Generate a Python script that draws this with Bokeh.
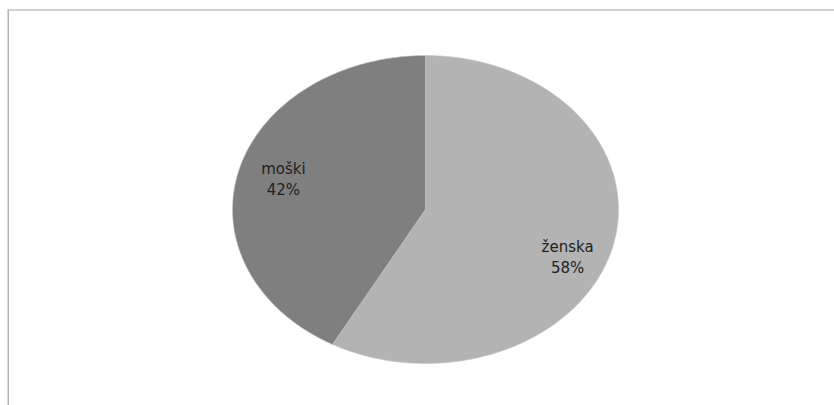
import numpy as np
from bokeh.plotting import figure
from bokeh.models import ColumnDataSource, Range1d, Span
from bokeh.core.properties import value
from bokeh.embed import file_html
from bokeh.resources import INLINE

# data
categories = ["ženska", "moški"]
shares = [58, 42]
colors = ["#b3b3b3", "#7f7f7f"]

W, H = 834, 405
left_b, top_b = 7, 9
cx_px, cy_px = 425, 209     # pie centre in page pixels
rx_px, ry_px = 193, 154     # pie radii in pixels (stretched ellipse)

fw, fh = W - left_b, H - top_b
x0 = (left_b - cx_px) / rx_px
x1 = x0 + fw / rx_px
y1 = (cy_px - top_b) / ry_px
y0 = y1 - fh / ry_px

p = figure(width=W, height=H, output_backend="svg", toolbar_location=None,
           x_range=Range1d(x0, x1), y_range=Range1d(y0, y1),
           min_border_left=left_b, min_border_top=top_b,
           min_border_right=0, min_border_bottom=0)
p.axis.visible = False
p.grid.visible = False
p.outline_line_color = None
p.background_fill_color = "white"
p.border_fill_color = "white"

# wedges, clockwise from 12 o'clock
total = float(sum(shares))
fr = np.cumsum([0] + shares) / total
xs, ys, lx, ly = [], [], [], []
for i in range(len(shares)):
    a = np.linspace(fr[i], fr[i + 1], 200) * 2 * np.pi
    xs.append(list(np.concatenate([[0], np.sin(a), [0]])))
    ys.append(list(np.concatenate([[0], np.cos(a), [0]])))
    m = (fr[i] + fr[i + 1]) * np.pi
    lx.append(0.76 * np.sin(m))
    ly.append(0.76 * np.cos(m))

src = ColumnDataSource(dict(xs=xs, ys=ys, color=colors))
p.patches("xs", "ys", source=src, fill_color="color", line_color="#c8c8c8",
          line_width=0.6)

labels = [f"{c}\n{s}%" for c, s in zip(categories, shares)]
# screen offsets (positive = down)
lsrc = ColumnDataSource(dict(x=lx, y=ly, t=labels, yo=[19, -1]))
p.text("x", "y", text="t", source=lsrc, text_align="center",
       text_baseline="middle", text_font=value("DejaVu Sans"),
       text_font_size="15px", text_color="#222222", text_line_height=1.2,
       y_offset="yo")

# frame lines (top and left)
p.add_layout(Span(location=y1, dimension="width", line_color="#a6a6a6", line_width=2))
p.add_layout(Span(location=x0, dimension="height", line_color="#b4b4b4", line_width=3))

open("out.html", "w").write(file_html(p, INLINE))
